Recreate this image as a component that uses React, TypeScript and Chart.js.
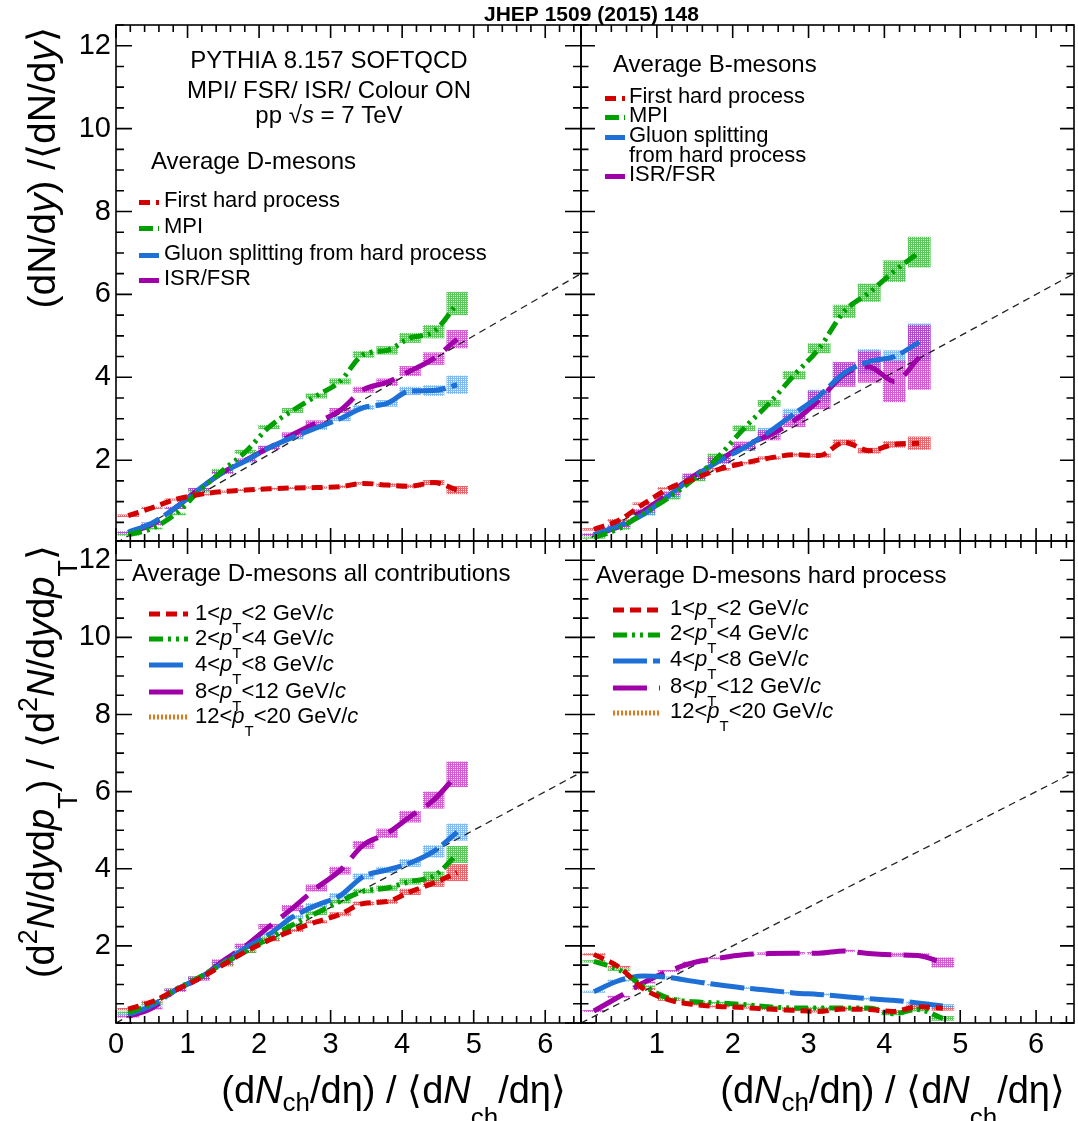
import React, { useEffect, useRef } from "react";
import { Chart, registerables } from "chart.js";

Chart.register(...registerables);

const PAGE_W = 1078;
const PAGE_H = 1121;
const FONT = '"Liberation Sans", Arial, Helvetica, sans-serif';

// ---------------- axes ----------------
const X_RANGE = [0, 6.5];
const Y_RANGE_TOP = [0.05, 12.5];
const Y_RANGE_BOTTOM = [0, 12.5];
const Y_TICK_LABELS = [2, 4, 6, 8, 10, 12];
const X_TICK_LABELS_LEFT = [0, 1, 2, 3, 4, 5, 6];
const X_TICK_LABELS_RIGHT = [1, 2, 3, 4, 5, 6];
const DIAGONAL = [0, 6.5]; // y = x reference line

// ---------------- bins ----------------
const D_X = [0.17, 0.5, 0.83, 1.16, 1.49, 1.81, 2.14, 2.47, 2.8, 3.13, 3.46, 3.79, 4.11, 4.44, 4.77];
const B_X = [0.17, 0.5, 0.83, 1.16, 1.49, 1.82, 2.15, 2.48, 2.81, 3.14, 3.47, 3.8, 4.13, 4.46];
const BIN_HALF = 0.15;

// ---------------- top-left: average D-mesons ----------------
const D_FIRST = [0.66, 0.85, 1.05, 1.17, 1.24, 1.28, 1.31, 1.33, 1.34, 1.36, 1.44, 1.4, 1.37, 1.46, 1.28];
const D_FIRST_ERR = [0.03, 0.02, 0.02, 0.02, 0.02, 0.02, 0.02, 0.02, 0.02, 0.03, 0.03, 0.04, 0.04, 0.06, 0.1];
const D_MPI = [0.2, 0.35, 0.7, 1.25, 1.75, 2.2, 2.8, 3.2, 3.55, 3.9, 4.55, 4.65, 4.95, 5.1, 5.78];
const D_MPI_ERR = [0.02, 0.02, 0.03, 0.03, 0.04, 0.05, 0.05, 0.06, 0.06, 0.07, 0.08, 0.1, 0.12, 0.16, 0.28];
const D_GLUON = [0.26, 0.48, 0.85, 1.3, 1.7, 1.98, 2.3, 2.55, 2.78, 3.0, 3.27, 3.37, 3.67, 3.68, 3.82];
const D_GLUON_ERR = [0.02, 0.02, 0.02, 0.03, 0.03, 0.04, 0.04, 0.05, 0.05, 0.06, 0.06, 0.08, 0.1, 0.13, 0.22];
const D_ISR = [0.25, 0.45, 0.85, 1.3, 1.7, 2.0, 2.3, 2.62, 2.9, 3.2, 3.7, 3.88, 4.15, 4.45, 4.92];
const D_ISR_ERR = [0.02, 0.02, 0.02, 0.03, 0.03, 0.04, 0.05, 0.05, 0.06, 0.06, 0.07, 0.09, 0.12, 0.15, 0.22];

// ---------------- top-right: average B-mesons ----------------
const B_FIRST = [0.33, 0.55, 0.95, 1.32, 1.55, 1.78, 1.93, 2.05, 2.13, 2.11, 2.43, 2.23, 2.38, 2.41];
const B_FIRST_ERR = [0.03, 0.03, 0.03, 0.03, 0.03, 0.03, 0.03, 0.04, 0.04, 0.05, 0.07, 0.07, 0.08, 0.16];
const B_MPI = [0.13, 0.35, 0.72, 1.1, 1.55, 2.1, 2.77, 3.37, 4.05, 4.7, 5.59, 6.04, 6.56, 7.02];
const B_MPI_ERR = [0.02, 0.03, 0.04, 0.05, 0.06, 0.06, 0.07, 0.08, 0.1, 0.12, 0.16, 0.22, 0.26, 0.37];
const B_GLUON = [0.2, 0.42, 0.7, 1.15, 1.6, 1.98, 2.3, 2.68, 3.12, 3.55, 4.1, 4.38, 4.5, 4.85];
const B_GLUON_ERR = [0.03, 0.03, 0.04, 0.05, 0.06, 0.07, 0.08, 0.1, 0.12, 0.15, 0.25, 0.3, 0.15, 0.45];
const B_ISR = [0.2, 0.4, 0.78, 1.2, 1.62, 2.0, 2.35, 2.6, 2.95, 3.45, 4.07, 4.25, 3.9, 4.48];
const B_ISR_ERR = [0.03, 0.03, 0.04, 0.05, 0.06, 0.08, 0.1, 0.12, 0.15, 0.22, 0.3, 0.38, 0.5, 0.78];

// ---------------- bottom-left: D-mesons all contributions ----------------
const ALL_PT1 = [0.36, 0.55, 0.85, 1.15, 1.5, 1.85, 2.15, 2.4, 2.62, 2.82, 3.1, 3.15, 3.4, 3.63, 3.9];
const ALL_PT1_ERR = [0.03, 0.02, 0.02, 0.02, 0.03, 0.03, 0.03, 0.04, 0.04, 0.05, 0.05, 0.06, 0.08, 0.1, 0.22];
const ALL_PT2 = [0.27, 0.5, 0.87, 1.18, 1.53, 1.85, 2.2, 2.55, 2.85, 3.15, 3.42, 3.5, 3.67, 3.81, 4.37];
const ALL_PT2_ERR = [0.03, 0.02, 0.02, 0.03, 0.03, 0.03, 0.04, 0.04, 0.05, 0.05, 0.06, 0.07, 0.08, 0.12, 0.22];
const ALL_PT4 = [0.22, 0.45, 0.85, 1.17, 1.55, 1.95, 2.3, 2.75, 3.05, 3.3, 3.8, 3.97, 4.15, 4.45, 4.95];
const ALL_PT4_ERR = [0.03, 0.02, 0.03, 0.03, 0.03, 0.04, 0.05, 0.05, 0.06, 0.07, 0.08, 0.08, 0.1, 0.16, 0.22];
const ALL_PT8 = [0.17, 0.38, 0.85, 1.15, 1.6, 2.0, 2.5, 2.98, 3.5, 3.95, 4.62, 4.92, 5.35, 5.78, 6.45];
const ALL_PT8_ERR = [0.03, 0.03, 0.04, 0.05, 0.05, 0.06, 0.07, 0.08, 0.09, 0.1, 0.1, 0.12, 0.15, 0.22, 0.33];
const ALL_PT12: number[] = [];
const ALL_PT12_ERR: number[] = [];

// ---------------- bottom-right: D-mesons hard process ----------------
const HARD_PT1 = [1.78, 1.45, 0.88, 0.6, 0.48, 0.43, 0.4, 0.36, 0.33, 0.3, 0.36, 0.35, 0.3, 0.42, 0.38];
const HARD_PT1_ERR = [0.03, 0.03, 0.02, 0.02, 0.02, 0.02, 0.02, 0.02, 0.02, 0.02, 0.03, 0.03, 0.03, 0.05, 0.06];
const HARD_PT2 = [1.6, 1.38, 0.95, 0.64, 0.55, 0.52, 0.48, 0.42, 0.39, 0.39, 0.39, 0.39, 0.24, 0.35, 0.12];
const HARD_PT2_ERR = [0.03, 0.03, 0.02, 0.02, 0.02, 0.02, 0.02, 0.02, 0.02, 0.02, 0.03, 0.03, 0.04, 0.05, 0.06];
const HARD_PT4 = [0.81, 1.1, 1.22, 1.18, 1.08, 0.99, 0.91, 0.85, 0.78, 0.74, 0.69, 0.63, 0.59, 0.52, 0.44];
const HARD_PT4_ERR = [0.02, 0.02, 0.02, 0.02, 0.02, 0.02, 0.02, 0.02, 0.02, 0.02, 0.02, 0.03, 0.03, 0.04, 0.05];
const HARD_PT8 = [0.31, 0.68, 1.05, 1.35, 1.57, 1.68, 1.77, 1.8, 1.81, 1.81, 1.87, 1.8, 1.77, 1.75, 1.57];
const HARD_PT8_ERR = [0.02, 0.02, 0.02, 0.02, 0.02, 0.02, 0.02, 0.03, 0.03, 0.03, 0.03, 0.04, 0.05, 0.06, 0.13];
const HARD_PT12: number[] = [];
const HARD_PT12_ERR: number[] = [];

// ---------------- styles ----------------
const STYLES: Record<string, { color: string; box: string; dash: number[] }> = {
  red: { color: "#d40000", box: "#e8323a", dash: [11, 6] },
  green: { color: "#00a000", box: "#22b822", dash: [14, 5, 3, 5, 3, 5] },
  blue: { color: "#1e6fd6", box: "#55a3f2", dash: [34, 6] },
  purple: { color: "#a000a8", box: "#cc22cc", dash: [34, 12] },
  orange: { color: "#e07820", box: "#f0a060", dash: [2, 2] },
};

type Series = { label: string; x: number[]; y: number[]; err: number[]; style: string };

const TL_SERIES: Series[] = [
  { label: "First hard process", x: D_X, y: D_FIRST, err: D_FIRST_ERR, style: "red" },
  { label: "MPI", x: D_X, y: D_MPI, err: D_MPI_ERR, style: "green" },
  { label: "Gluon splitting from hard process", x: D_X, y: D_GLUON, err: D_GLUON_ERR, style: "blue" },
  { label: "ISR/FSR", x: D_X, y: D_ISR, err: D_ISR_ERR, style: "purple" },
];
const TR_SERIES: Series[] = [
  { label: "First hard process", x: B_X, y: B_FIRST, err: B_FIRST_ERR, style: "red" },
  { label: "MPI", x: B_X, y: B_MPI, err: B_MPI_ERR, style: "green" },
  { label: "Gluon splitting\nfrom hard process", x: B_X, y: B_GLUON, err: B_GLUON_ERR, style: "blue" },
  { label: "ISR/FSR", x: B_X, y: B_ISR, err: B_ISR_ERR, style: "purple" },
];
const PT_LABELS = [
  "1<#it{p}#sl{T}<2 GeV/#it{c}",
  "2<#it{p}#sl{T}<4 GeV/#it{c}",
  "4<#it{p}#sl{T}<8 GeV/#it{c}",
  "8<#it{p}#sl{T}<12 GeV/#it{c}",
  "12<#it{p}#sl{T}<20 GeV/#it{c}",
];
const BL_SERIES: Series[] = [
  { label: PT_LABELS[0], x: D_X, y: ALL_PT1, err: ALL_PT1_ERR, style: "red" },
  { label: PT_LABELS[1], x: D_X, y: ALL_PT2, err: ALL_PT2_ERR, style: "green" },
  { label: PT_LABELS[2], x: D_X, y: ALL_PT4, err: ALL_PT4_ERR, style: "blue" },
  { label: PT_LABELS[3], x: D_X, y: ALL_PT8, err: ALL_PT8_ERR, style: "purple" },
  { label: PT_LABELS[4], x: D_X, y: ALL_PT12, err: ALL_PT12_ERR, style: "orange" },
];
const BR_SERIES: Series[] = [
  { label: PT_LABELS[0], x: D_X, y: HARD_PT1, err: HARD_PT1_ERR, style: "red" },
  { label: PT_LABELS[1], x: D_X, y: HARD_PT2, err: HARD_PT2_ERR, style: "green" },
  { label: PT_LABELS[2], x: D_X, y: HARD_PT4, err: HARD_PT4_ERR, style: "blue" },
  { label: PT_LABELS[3], x: D_X, y: HARD_PT8, err: HARD_PT8_ERR, style: "purple" },
  { label: PT_LABELS[4], x: D_X, y: HARD_PT12, err: HARD_PT12_ERR, style: "orange" },
];

// ---------------- rich text (TLatex-like) ----------------
type Part = { t: string; it?: boolean; sub?: boolean; low?: boolean; sup?: boolean };
function parseRich(s: string): Part[] {
  const parts: Part[] = [];
  let buf = "";
  let i = 0;
  const flush = () => {
    if (buf) parts.push({ t: buf });
    buf = "";
  };
  const tags: [string, Partial<Part>][] = [
    ["#it{", { it: true }],
    ["#sl{", { sub: true, low: true }],
    ["_{", { sub: true }],
    ["^{", { sup: true }],
  ];
  while (i < s.length) {
    let matched = false;
    for (const [tag, props] of tags) {
      if (s.startsWith(tag, i)) {
        flush();
        const j = s.indexOf("}", i + tag.length);
        parts.push({ t: s.slice(i + tag.length, j), ...props });
        i = j + 1;
        matched = true;
        break;
      }
    }
    if (!matched) {
      buf += s[i];
      i++;
    }
  }
  flush();
  return parts;
}

function drawRich(
  ctx: CanvasRenderingContext2D,
  s: string,
  x: number,
  y: number,
  size: number,
  align: "left" | "center" | "right" = "left",
  bold = false
) {
  const parts = parseRich(s);
  const fontOf = (p: Part) =>
    `${p.it ? "italic " : ""}${bold ? "bold " : ""}${Math.round(p.sub || p.sup ? size * 0.7 : size)}px ${FONT}`;
  let total = 0;
  const widths = parts.map((p) => {
    ctx.font = fontOf(p);
    const w = ctx.measureText(p.t).width;
    total += w;
    return w;
  });
  let cx = align === "center" ? x - total / 2 : align === "right" ? x - total : x;
  ctx.textAlign = "left";
  ctx.textBaseline = "alphabetic";
  ctx.fillStyle = "#000";
  parts.forEach((p, k) => {
    ctx.font = fontOf(p);
    const dy = p.low ? size * 0.6 : p.sub ? size * 0.22 : p.sup ? -size * 0.45 : 0;
    ctx.fillText(p.t, cx, y + dy);
    cx += widths[k];
  });
}

function makePattern(ctx: CanvasRenderingContext2D, color: string) {
  const c = document.createElement("canvas");
  c.width = 4;
  c.height = 4;
  const g = c.getContext("2d")!;
  g.fillStyle = color;
  g.fillRect(0, 0, 4, 4);
  g.clearRect(1, 1, 1, 1);
  g.clearRect(3, 3, 1, 1);
  g.clearRect(1, 3, 1, 1);
  g.clearRect(3, 1, 1, 1);
  return ctx.createPattern(c, "repeat")!;
}

// ---------------- panels ----------------
type TextItem = { s: string; x: number; y: number; size: number; align?: "left" | "center" | "right"; bold?: boolean };
type LegendCfg = { x1: number; x2: number; tx: number; size: number; off: number; gap: number; rows: number[] };
type PanelCfg = {
  area: { left: number; top: number; right: number; bottom: number };
  yRange: number[];
  yLabels: boolean;
  xLabels: number[] | null;
  series: Series[];
  texts: TextItem[];
  legend: LegendCfg;
  yTitle?: { s: string; x: number; y: number; size: number };
  xTitle?: { s: string; x: number; y: number; size: number };
  yTickLen: [number, number];
};

const PANELS: PanelCfg[] = [
  {
    area: { left: 116, top: 25, right: 581, bottom: 541 },
    yRange: Y_RANGE_TOP,
    yLabels: true,
    xLabels: null,
    series: TL_SERIES,
    texts: [
      { s: "JHEP 1509 (2015) 148", x: 484, y: 21, size: 21, bold: true },
      { s: "PYTHIA 8.157 SOFTQCD", x: 329, y: 68, size: 24, align: "center" },
      { s: "MPI/ FSR/ ISR/ Colour ON", x: 329, y: 98, size: 24, align: "center" },
      { s: "pp √#it{s} = 7 TeV", x: 329, y: 123, size: 24, align: "center" },
      { s: "Average D-mesons", x: 151, y: 169, size: 24 },
    ],
    legend: { x1: 139, x2: 159, tx: 164, size: 22, off: 4.5, gap: 20, rows: [207, 233, 260, 285] },
    yTitle: { s: "(dN/d#it{y}) /⟨dN/d#it{y}⟩", x: 55, y: 27, size: 38.5 },
    yTickLen: [16, 8],
  },
  {
    area: { left: 581, top: 25, right: 1074, bottom: 541 },
    yRange: Y_RANGE_TOP,
    yLabels: false,
    xLabels: null,
    series: TR_SERIES,
    texts: [{ s: "Average B-mesons", x: 613, y: 72, size: 24 }],
    legend: { x1: 605, x2: 625, tx: 629, size: 22, off: 4.5, gap: 20, rows: [103, 122, 142, 181] },
    yTickLen: [14, 7.5],
  },
  {
    area: { left: 116, top: 541, right: 581, bottom: 1023 },
    yRange: Y_RANGE_BOTTOM,
    yLabels: true,
    xLabels: X_TICK_LABELS_LEFT,
    series: BL_SERIES,
    texts: [{ s: "Average D-mesons all contributions", x: 132, y: 581, size: 24 }],
    legend: { x1: 149, x2: 188, tx: 195, size: 22, off: 6, gap: 20, rows: [620, 645, 671, 698, 723] },
    yTitle: {
      s: "(d^{2}#it{N}/d#it{y}d#it{p}#sl{T}) / ⟨d^{2}#it{N}/d#it{y}d#it{p}#sl{T}⟩",
      x: 54,
      y: 545,
      size: 38,
    },
    xTitle: { s: "(d#it{N}_{ch}/dη) / ⟨d#it{N}#sl{ch}/dη⟩", x: 566, y: 1103, size: 37.5 },
    yTickLen: [16, 8],
  },
  {
    area: { left: 581, top: 541, right: 1074, bottom: 1023 },
    yRange: Y_RANGE_BOTTOM,
    yLabels: false,
    xLabels: X_TICK_LABELS_RIGHT,
    series: BR_SERIES,
    texts: [{ s: "Average D-mesons hard process", x: 596, y: 583, size: 24 }],
    legend: { x1: 613, x2: 660, tx: 670, size: 22, off: 5, gap: 20, rows: [615, 640, 666, 693, 718] },
    xTitle: { s: "(d#it{N}_{ch}/dη) / ⟨d#it{N}#sl{ch}/dη⟩", x: 1065, y: 1103, size: 37.5 },
    yTickLen: [14, 7.5],
  },
];

const X_AXIS_H = 40;

function decorPlugin(cfg: PanelCfg) {
  return {
    id: "rootDecor",
    beforeDatasetsDraw(chart: any) {
      const { ctx, chartArea: a, scales } = chart;
      const xs = scales.x;
      const ys = scales.y;
      ctx.save();
      ctx.beginPath();
      ctx.rect(a.left, a.top, a.right - a.left, a.bottom - a.top);
      ctx.clip();
      chart.data.datasets.forEach((ds: any) => {
        if (!ds.errs) return;
        ctx.fillStyle = makePattern(ctx, ds.boxColor);
        ctx.globalAlpha = 0.75;
        ds.data.forEach((p: any, i: number) => {
          const e = ds.errs[i] ?? 0;
          const x0 = xs.getPixelForValue(p.x - BIN_HALF);
          const x1 = xs.getPixelForValue(p.x + BIN_HALF);
          const y0 = ys.getPixelForValue(p.y + e);
          const y1 = ys.getPixelForValue(p.y - e);
          const h = Math.max(y1 - y0, 2);
          ctx.fillRect(x0, (y0 + y1) / 2 - h / 2, x1 - x0, h);
        });
      });
      ctx.restore();
    },
    afterDatasetsDraw(chart: any) {
      const { ctx, chartArea: a, scales } = chart;
      const xs = scales.x;
      const ys = scales.y;
      ctx.save();
      ctx.strokeStyle = "#000";
      ctx.lineWidth = 1.6;
      ctx.setLineDash([]);
      ctx.strokeRect(a.left, a.top, a.right - a.left, a.bottom - a.top);
      ctx.beginPath();
      for (let k = 0; k <= 40; k++) {
        const v = k * 0.2;
        if (v > X_RANGE[1] + 1e-9) break;
        const px = xs.getPixelForValue(v);
        const len = k % 5 === 0 ? 13 : 7;
        ctx.moveTo(px, a.bottom);
        ctx.lineTo(px, a.bottom - len);
        ctx.moveTo(px, a.top);
        ctx.lineTo(px, a.top + len);
      }
      for (let k = 0; k <= 30; k++) {
        const v = k * 0.5;
        if (v < cfg.yRange[0] - 1e-9) continue;
        if (v > cfg.yRange[1] + 1e-9) break;
        const py = ys.getPixelForValue(v);
        const len = k % 4 === 0 ? cfg.yTickLen[0] : cfg.yTickLen[1];
        ctx.moveTo(a.left, py);
        ctx.lineTo(a.left + len, py);
        ctx.moveTo(a.right, py);
        ctx.lineTo(a.right - len, py);
      }
      ctx.stroke();
      ctx.restore();
    },
    afterDraw(chart: any) {
      const { ctx } = chart;
      ctx.save();
      cfg.texts.forEach((t) => drawRich(ctx, t.s, t.x, t.y, t.size, t.align ?? "left", !!t.bold));
      const L = cfg.legend;
      L.rows.forEach((baseline, i) => {
        const ds = chart.data.datasets[i];
        ctx.save();
        ctx.strokeStyle = ds.borderColor;
        ctx.lineWidth = 5;
        ctx.lineCap = "butt";
        ctx.setLineDash(ds.borderDash);
        ctx.beginPath();
        ctx.moveTo(L.x1, baseline - L.off);
        ctx.lineTo(L.x2, baseline - L.off);
        ctx.stroke();
        ctx.restore();
        String(ds.label)
          .split("\n")
          .forEach((line: string, k: number) => drawRich(ctx, line, L.tx, baseline + k * L.gap, L.size));
      });
      if (cfg.yTitle) {
        const t = cfg.yTitle;
        ctx.save();
        ctx.translate(t.x, t.y);
        ctx.rotate(-Math.PI / 2);
        drawRich(ctx, t.s, 0, 0, t.size, "right");
        ctx.restore();
      }
      if (cfg.xTitle) {
        const t = cfg.xTitle;
        drawRich(ctx, t.s, t.x, t.y, t.size, "right");
      }
      ctx.restore();
    },
  };
}

function buildConfig(cfg: PanelCfg): any {
  const datasets: any[] = cfg.series.map((s) => {
    const st = STYLES[s.style];
    return {
      label: s.label,
      data: s.x.slice(0, s.y.length).map((x, i) => ({ x, y: s.y[i] })),
      borderColor: st.color,
      backgroundColor: st.color,
      borderWidth: 5,
      borderDash: st.dash,
      pointRadius: 0,
      cubicInterpolationMode: "monotone",
      fill: false,
      errs: s.err,
      boxColor: st.box,
    };
  });
  datasets.push({
    label: "y = x",
    data: DIAGONAL.map((v) => ({ x: v, y: v })),
    borderColor: "#222",
    borderWidth: 1.3,
    borderDash: [7, 5],
    pointRadius: 0,
    fill: false,
  });
  const a = cfg.area;
  return {
    type: "line",
    data: { datasets },
    options: {
      animation: false,
      responsive: false,
      events: [],
      layout: {
        padding: {
          left: cfg.yLabels ? 0 : a.left,
          right: PAGE_W - a.right,
          top: a.top,
          bottom: cfg.xLabels ? PAGE_H - a.bottom - X_AXIS_H : PAGE_H - a.bottom,
        },
      },
      scales: {
        x: {
          type: "linear",
          min: X_RANGE[0],
          max: X_RANGE[1],
          display: !!cfg.xLabels,
          grid: { display: false, drawTicks: false },
          border: { display: false },
          afterBuildTicks: (axis: any) => {
            axis.ticks = (cfg.xLabels ?? []).map((v) => ({ value: v }));
          },
          afterFit: (axis: any) => {
            axis.height = cfg.xLabels ? X_AXIS_H : 0;
          },
          ticks: {
            padding: 5,
            color: "#000",
            font: { family: FONT, size: 29 },
            maxRotation: 0,
            autoSkip: false,
            callback: (v: any) => String(v),
          },
        },
        y: {
          type: "linear",
          min: cfg.yRange[0],
          max: cfg.yRange[1],
          display: cfg.yLabels,
          grid: { display: false, drawTicks: false },
          border: { display: false },
          afterBuildTicks: (axis: any) => {
            axis.ticks = cfg.yLabels ? Y_TICK_LABELS.map((v) => ({ value: v })) : [];
          },
          afterFit: (axis: any) => {
            axis.width = cfg.yLabels ? a.left : 0;
          },
          ticks: {
            padding: 5,
            color: "#000",
            font: { family: FONT, size: 29 },
            autoSkip: false,
            callback: (v: any) => String(v),
          },
        },
      },
      plugins: {
        legend: { display: false },
        tooltip: { enabled: false },
      },
    },
    plugins: [decorPlugin(cfg)],
  };
}

function Panel({ cfg }: { cfg: PanelCfg }) {
  const ref = useRef<HTMLCanvasElement | null>(null);
  useEffect(() => {
    if (!ref.current) return;
    const chart = new Chart(ref.current, buildConfig(cfg));
    return () => chart.destroy();
  }, [cfg]);
  return (
    <canvas
      ref={ref}
      width={PAGE_W}
      height={PAGE_H}
      style={{ position: "absolute", left: 0, top: 0, width: PAGE_W, height: PAGE_H }}
    />
  );
}

export default function App() {
  return (
    <div style={{ position: "absolute", left: 0, top: 0, width: PAGE_W, height: PAGE_H, background: "#fff" }}>
      {PANELS.map((p, i) => (
        <Panel key={i} cfg={p} />
      ))}
    </div>
  );
}
